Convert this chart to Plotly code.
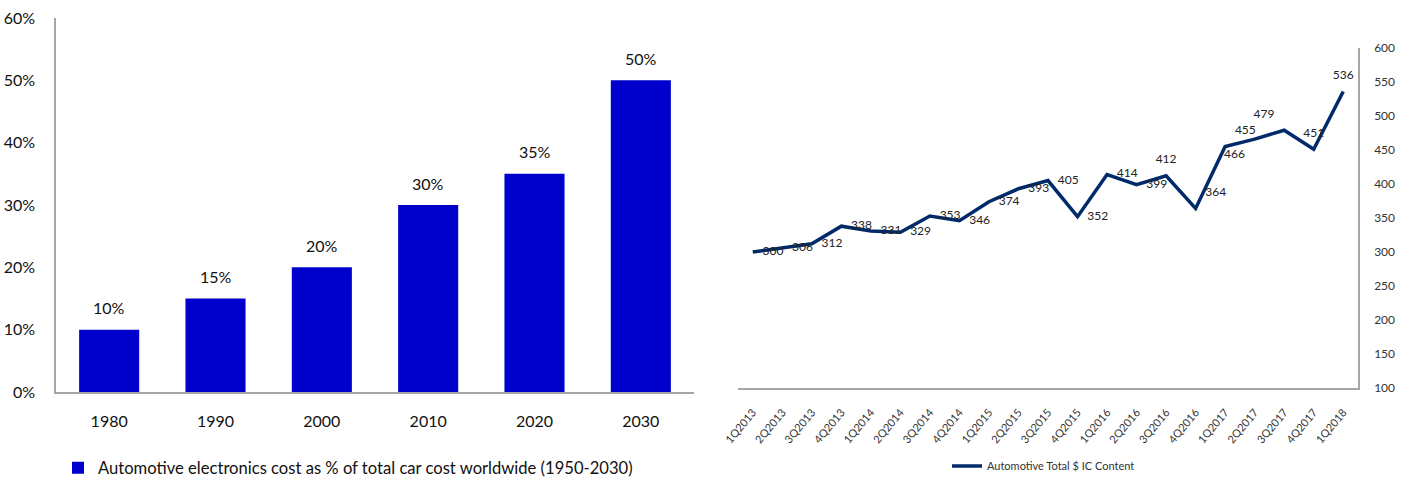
import plotly.graph_objects as go

# Left panel: electronics share of total car cost
years = ["1980", "1990", "2000", "2010", "2020", "2030"]
share_pct = [10, 15, 20, 30, 35, 50]
pct_ticks = [0, 10, 20, 30, 40, 50, 60]

# Right panel: quarterly automotive IC content
quarters = ["1Q2013", "2Q2013", "3Q2013", "4Q2013", "1Q2014", "2Q2014", "3Q2014",
            "4Q2014", "1Q2015", "2Q2015", "3Q2015", "4Q2015", "1Q2016", "2Q2016",
            "3Q2016", "4Q2016", "1Q2017", "2Q2017", "3Q2017", "4Q2017", "1Q2018"]
ic_content = [300, 306, 312, 338, 331, 329, 353, 346, 374, 393, 405, 352, 414, 399,
              412, 364, 455, 466, 479, 451, 536]
label_pos = ["middle right"] * 14 + ["top center", "top right", "top right",
                                     "bottom left", "top left", "top center", "top center"]

FONT = "Lato, Roboto, sans-serif"
BAR_COLOR = "#0000CC"
LINE_COLOR = "#002A6A"
AXIS_COLOR = "#A6A6A6"

fig = go.Figure()

fig.add_trace(go.Bar(
    x=years, y=share_pct, marker=dict(color=BAR_COLOR, line=dict(width=0)),
    width=0.565, xaxis="x", yaxis="y",
    name="Automotive electronics cost as % of total car cost worldwide (1950-2030)",
    legend="legend", showlegend=True, hoverinfo="skip",
))

fig.add_trace(go.Scatter(
    x=quarters, y=ic_content, mode="lines+markers+text",
    line=dict(color=LINE_COLOR, width=3.5),
    marker=dict(size=14, color="rgba(0,0,0,0)"),
    text=[str(v) for v in ic_content], textposition=label_pos,
    textfont=dict(family=FONT, size=12, color="#222222"),
    xaxis="x2", yaxis="y2", name="Automotive Total $ IC Content",
    legend="legend2", showlegend=True, hoverinfo="skip",
))

# value labels above each bar (category index used as x position)
annotations = [
    dict(x=i, y=v, xref="x", yref="y", text=f"{v}%", showarrow=False,
         yshift=22, font=dict(family=FONT, size=16, color="#111111"))
    for i, v in enumerate(share_pct)
]

fig.update_layout(
    width=1403, height=481,
    margin=dict(l=0, r=0, t=0, b=0, autoexpand=False),
    paper_bgcolor="white", plot_bgcolor="white",
    font=dict(family=FONT, color="#111111"),
    showlegend=True,
    annotations=annotations,
    xaxis=dict(
        domain=[56 / 1403, 694 / 1403], anchor="y", type="category",
        range=[-0.5, len(years) - 0.5], automargin=False,
        showline=True, linecolor=AXIS_COLOR, linewidth=1.5,
        showgrid=False, ticks="", ticklabelstandoff=14,
        tickfont=dict(family=FONT, size=16, color="#111111"),
    ),
    yaxis=dict(
        domain=[1 - 392 / 481, 1 - 18 / 481], anchor="x",
        range=[0, 60], tickvals=pct_ticks, ticktext=[f"{t}%" for t in pct_ticks],
        automargin=False,
        showline=True, linecolor=AXIS_COLOR, linewidth=1.5,
        showgrid=False, zeroline=False, ticks="", ticklabelstandoff=16,
        tickfont=dict(family=FONT, size=16, color="#111111"),
    ),
    xaxis2=dict(
        domain=[738 / 1403, 1358 / 1403], anchor="y2", type="category",
        range=[-0.5, len(quarters) - 0.5], automargin=False,
        showline=True, linecolor=AXIS_COLOR, linewidth=1.5,
        showgrid=False, ticks="", tickangle=-50, ticklabelstandoff=12,
        tickfont=dict(family=FONT, size=11, color="#333333"),
    ),
    yaxis2=dict(
        domain=[1 - 388 / 481, 1 - 48 / 481], anchor="x2", side="right",
        range=[100, 600], dtick=50, automargin=False,
        showline=True, linecolor=AXIS_COLOR, linewidth=1.5,
        showgrid=False, zeroline=False, ticks="", ticklabelstandoff=12,
        tickfont=dict(family=FONT, size=12, color="#333333"),
    ),
    legend=dict(
        x=58 / 1403, y=1 - 468 / 481, xanchor="left", yanchor="middle",
        orientation="h", bgcolor="rgba(0,0,0,0)",
        font=dict(family=FONT, size=16.6, color="#111111"),
    ),
    legend2=dict(
        x=947 / 1403, y=1 - 466 / 481, xanchor="left", yanchor="middle",
        orientation="h", bgcolor="rgba(0,0,0,0)",
        font=dict(family=FONT, size=11, color="#333333"),
    ),
)

fig.write_html("out.html")
